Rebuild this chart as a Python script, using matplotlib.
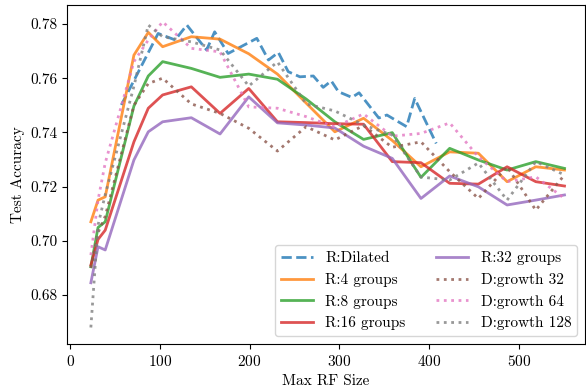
import numpy as np
import matplotlib
matplotlib.use("Agg")
import matplotlib.pyplot as plt

plt.rcParams['font.family'] = ['cmr10', 'DejaVu Serif']
plt.rcParams['mathtext.fontset'] = 'cm'
plt.rcParams['axes.formatter.use_mathtext'] = True

# Données : taille RF max -> précision test
rf_dilated = [57, 98, 117, 130, 152, 161, 176, 208, 221, 232, 243, 256, 271, 282, 291,
              299, 314, 322, 344, 353, 375, 384, 408]
acc_dilated = [0.7501, 0.7765, 0.7741, 0.7796, 0.7704, 0.7771, 0.7691, 0.7747, 0.7667,
               0.7695, 0.7624, 0.7605, 0.7608, 0.7566, 0.7590, 0.7550, 0.7529, 0.7546,
               0.7453, 0.7464, 0.7421, 0.7525, 0.7359]

rf = [23, 31, 39, 71, 87, 103, 135, 167, 199, 231, 263, 295, 327, 359, 391, 423, 455, 487, 519, 551]

acc_g4 = [0.7070, 0.7150, 0.7162, 0.7685, 0.7769, 0.7716, 0.7753, 0.7744, 0.7690, 0.7615,
          0.7508, 0.7402, 0.7452, 0.7370, 0.7273, 0.7328, 0.7323, 0.7218, 0.7273, 0.7261]
acc_g8 = [0.6904, 0.7049, 0.7070, 0.7497, 0.7608, 0.7661, 0.7636, 0.7603, 0.7615, 0.7596,
          0.7523, 0.7439, 0.7374, 0.7399, 0.7234, 0.7341, 0.7298, 0.7261, 0.7292, 0.7267]
acc_g16 = [0.6910, 0.7005, 0.7039, 0.7365, 0.7489, 0.7538, 0.7568, 0.7470, 0.7562, 0.7439,
           0.7436, 0.7432, 0.7430, 0.7292, 0.7288, 0.7212, 0.7209, 0.7273, 0.7218, 0.7202]
acc_g32 = [0.6845, 0.6978, 0.6966, 0.7298, 0.7402, 0.7439, 0.7454, 0.7394, 0.7531, 0.7435,
           0.7427, 0.7416, 0.7349, 0.7304, 0.7156, 0.7239, 0.7199, 0.7132, 0.7150, 0.7169]

acc_d32 = [0.6900, 0.7030, 0.7090, 0.7500, 0.7580, 0.7600, 0.7505, 0.7470, 0.7415, 0.7331,
           0.7421, 0.7372, 0.7425, 0.7345, 0.7365, 0.7255, 0.7156, 0.7273, 0.7113, 0.7243]
acc_d64 = [0.6947, 0.7150, 0.7287, 0.7661, 0.7741, 0.7808, 0.7710, 0.7697, 0.7494, 0.7489,
           0.7458, 0.7420, 0.7468, 0.7386, 0.7396, 0.7435, 0.7310, 0.7218, 0.7236, 0.7156]
acc_d128 = [0.6680, 0.7058, 0.7170, 0.7570, 0.7796, 0.7753, 0.7734, 0.7704, 0.7571, 0.7660,
            0.7505, 0.7479, 0.7427, 0.7390, 0.7235, 0.7224, 0.7287, 0.7150, 0.7292, 0.7243]

fig = plt.figure(figsize=(5.86, 3.87), dpi=100)
ax = fig.add_axes([0.1148, 0.1111, 0.8834, 0.8760])

a = 0.8
lw = 2
ax.plot(rf_dilated, acc_dilated, '--', color='tab:blue', alpha=a, lw=lw, label='R:Dilated')
ax.plot(rf, acc_g4, '-', color='tab:orange', alpha=a, lw=lw, label='R:4 groups')
ax.plot(rf, acc_g8, '-', color='tab:green', alpha=a, lw=lw, label='R:8 groups')
ax.plot(rf, acc_g16, '-', color='tab:red', alpha=a, lw=lw, label='R:16 groups')
ax.plot(rf, acc_g32, '-', color='tab:purple', alpha=a, lw=lw, label='R:32 groups')
ax.plot(rf, acc_d32, ':', color='tab:brown', alpha=a, lw=lw, label='D:growth 32')
ax.plot(rf, acc_d64, ':', color='tab:pink', alpha=a, lw=lw, label='D:growth 64')
ax.plot(rf, acc_d128, ':', color='tab:gray', alpha=a, lw=lw, label='D:growth 128')

ax.set_xlim(-3.3, 573.8)
ax.set_ylim(0.6619, 0.787)
ax.set_xticks([0, 100, 200, 300, 400, 500])
ax.set_yticks([0.68, 0.70, 0.72, 0.74, 0.76, 0.78])
ax.set_yticklabels(['0.68', '0.70', '0.72', '0.74', '0.76', '0.78'])
ax.tick_params(labelsize=11)

ax.set_xlabel('Max RF Size', fontsize=11)
ax.set_ylabel('Test Accuracy', fontsize=11)

ax.legend(loc='lower right', ncol=2, fontsize=11, handlelength=2.1)

plt.savefig('out.png', dpi=100)
